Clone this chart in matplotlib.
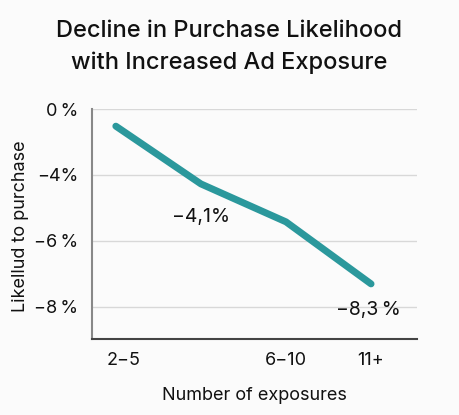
import matplotlib.pyplot as plt

plt.rcParams['font.family'] = ['Inter', 'DejaVu Sans']

# data (plotted in axis units where one gridline step = 1 tick)
categories = ['2\u22125', '', '6\u221210', '11+']
values = [-0.52, -2.27, -3.42, -5.3]
tick_pos = [0, -2, -4, -6]
tick_labels = ['0\u2009%', '\u22124%', '\u22126\u2009%', '\u22128\u2009%']
xtick_pos = [0.09, 2, 3]
xtick_labels = ['2\u22125', '6\u221210', '11+']
point_labels = {1: '\u22124,1%', 3: '\u22128,3\u2009%'}

fig = plt.figure(figsize=(4.59, 4.15), dpi=100, facecolor='#fbfbfb')
ax = fig.add_axes([92 / 459, (415 - 339) / 415, (417 - 92) / 459, (339 - 109) / 415])
ax.set_facecolor('#fbfbfb')

x = list(range(len(categories)))
ax.plot(x, values, color='#2b989c', linewidth=5, solid_capstyle='round', solid_joinstyle='round', zorder=3)

ax.text(x[1], values[1] - 1.0, point_labels[1], ha='center', va='center', fontsize=14, color='#111111')
ax.text(x[3] - 0.03, values[3] - 0.8, point_labels[3], ha='center', va='center', fontsize=14, color='#111111')

ax.set_xlim(-0.28, 3.54)
ax.set_ylim(-6.97, 0)
ax.set_xticks(xtick_pos)
ax.set_xticklabels(xtick_labels)
ax.set_yticks(tick_pos)
ax.set_yticklabels(tick_labels)
ax.tick_params(axis='both', length=0, labelsize=13, colors='#111111')
ax.tick_params(axis='x', pad=9)
ax.tick_params(axis='y', pad=10)

ax.grid(axis='y', color='#d8d8d8', linewidth=1)
ax.set_axisbelow(True)
for s in ['top', 'right']:
    ax.spines[s].set_visible(False)
ax.spines['left'].set_color('#888888')
ax.spines['left'].set_linewidth(1.5)
ax.spines['bottom'].set_color('#444444')
ax.spines['bottom'].set_linewidth(1.5)

ax.set_xlabel('Number of exposures', fontsize=13, labelpad=13, color='#111111')
ax.set_ylabel('Likellud to purchase', fontsize=13, color='#111111')
ax.yaxis.set_label_coords(-0.195, 0.49)

fig.text(0.5, 1 - 31 / 415, 'Decline in Purchase Likelihood', ha='center', va='center',
         fontsize=17, fontweight='medium', color='#111111')
fig.text(0.5, 1 - 63 / 415, 'with Increased Ad Exposure', ha='center', va='center',
         fontsize=17, fontweight='medium', color='#111111')

fig.savefig('out.png', dpi=100, facecolor=fig.get_facecolor())
